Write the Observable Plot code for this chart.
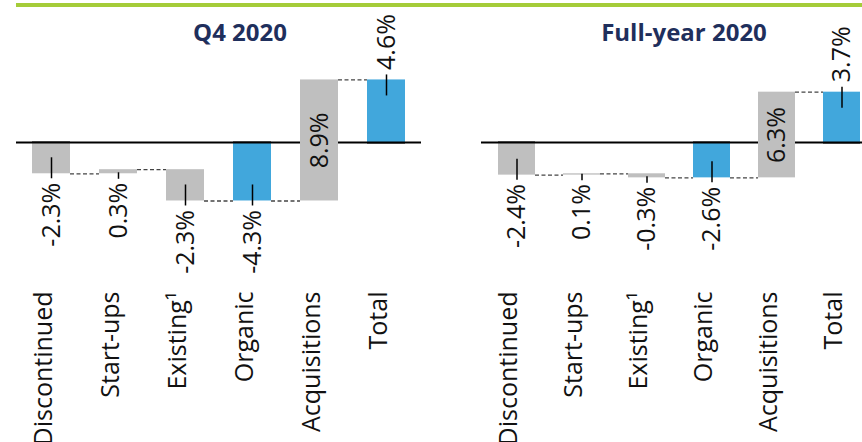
<!DOCTYPE html>
<html><head><meta charset="utf-8">
<script src="https://cdn.jsdelivr.net/npm/d3@7"></script>
<script src="https://cdn.jsdelivr.net/npm/@observablehq/plot@0.6"></script>
<style>
html,body{margin:0;padding:0;background:#fff;overflow:hidden}
#root{position:relative;width:862px;height:442px;overflow:hidden;font-family:"Open Sans",sans-serif}
.panel{position:absolute;top:0}
.title{position:absolute;top:20px;transform:translateX(-50%);font:700 24px/24px "Open Sans",sans-serif;color:#1f2f5c;white-space:nowrap}
#topline{position:absolute;left:16px;top:3px;width:846px;height:4px;background:#a5cc39}
</style></head><body>
<div id="root"><div id="topline"></div></div>
<script>
const categories = ["Discontinued", "Start-ups", "Existing\u00b9", "Organic", "Acquisitions", "Total"];
const q4Values = [-2.3, 0.3, -2.3, -4.3, 8.9, 4.6];
const fyValues = [-2.4, 0.1, -0.3, -2.6, 6.3, 3.7];
const q4Labels = ["-2.3%", "0.3%", "-2.3%", "-4.3%", "8.9%", "4.6%"];
const fyLabels = ["-2.4%", "0.1%", "-0.3%", "-2.6%", "6.3%", "3.7%"];
const subtotal = [false, false, false, true, false, true];
const labelPlacement = ["below", "below", "below", "below", "inside", "above"];
const titles = ["Q4 2020", "Full-year 2020"];

function waterfall(values, labels) {
  let run = 0;
  return categories.map((cat, i) => {
    const start = subtotal[i] ? 0 : run;
    const end = subtotal[i] ? values[i] : run + values[i];
    run = end;
    return {cat, value: values[i], label: labels[i], start, end, total: subtotal[i],
      place: labelPlacement[i], lo: Math.min(start, end), hi: Math.max(start, end),
      mid: (start + end) / 2, next: categories[i + 1]};
  });
}

const GRAY = "#bfbfbf", BLUE = "#41a7dc";
const Y0 = 142, PX = 13.6;

function panel(values, labels, cfg) {
  const rows = waterfall(values, labels);
  const bw = d3.scaleBand(categories, cfg.xRange).paddingInner(cfg.paddingInner).paddingOuter(0).bandwidth();
  const font = {fontFamily: '"Open Sans", sans-serif', fontSize: 25, fill: "#111"};
  const below = rows.filter(d => d.place === "below");
  const above = rows.filter(d => d.place === "above");
  const inside = rows.filter(d => d.place === "inside");
  const zeroLine = {stroke: "#000", strokeWidth: 2};
  return Plot.plot({
    width: 431, height: 442,
    marginLeft: cfg.marginLeft, marginRight: cfg.marginRight, marginTop: 10, marginBottom: 151,
    style: {background: "transparent"},
    x: {domain: categories, range: cfg.xRange, paddingInner: cfg.paddingInner, paddingOuter: 0, axis: null},
    y: {domain: [-5, 5], range: [Y0 + 5 * PX, Y0 - 5 * PX], axis: null},
    marks: [
      Plot.ruleY([0], zeroLine),
      Plot.barY(rows.filter(d => !d.total), {x: "cat", y1: "start", y2: "end", fill: GRAY}),
      Plot.barY(rows.filter(d => d.total), {x: "cat", y1: "start", y2: "end", fill: BLUE}),
      // zero line redrawn over bars that touch it (not over the inside-labelled bar)
      Plot.ruleY(rows.filter(d => d.place !== "inside" && (d.lo === 0 || d.hi === 0)), {y: () => 0, x1: "cat", x2: "cat", ...zeroLine}),
      Plot.ruleY(rows.filter(d => d.next), {y: "end", x1: "cat", x2: "next", insetLeft: bw, insetRight: bw,
        stroke: "#444", strokeWidth: 1.3, strokeDasharray: "4,2.5"}),
      Plot.ruleX(below.filter(d => Math.abs(d.value) >= 1), {x: "cat", y1: "lo", y2: "lo", insetTop: -16, insetBottom: -5, stroke: "#000", strokeWidth: 1.5}),
      Plot.ruleX(below.filter(d => Math.abs(d.value) < 1), {x: "cat", y1: "lo", y2: "lo", insetTop: -1, insetBottom: -5.5, stroke: "#000", strokeWidth: 1.5}),
      Plot.ruleX(above, {x: "cat", y1: "hi", y2: "hi", insetTop: -5, insetBottom: -16, stroke: "#000", strokeWidth: 1.5}),
      Plot.text(below, {x: "cat", y: "lo", text: "label", rotate: -90, textAnchor: "end", dy: 9, ...font}),
      Plot.text(above, {x: "cat", y: "hi", text: "label", rotate: -90, textAnchor: "start", dy: -10, ...font}),
      Plot.text(inside, {x: "cat", y: "mid", text: "label", rotate: -90, textAnchor: "middle", ...font}),
      Plot.text(rows, {x: "cat", text: "cat", frameAnchor: "bottom", rotate: -90, textAnchor: "end", ...font})
    ]
  });
}

const root = document.getElementById("root");
const configs = [
  {left: 0, marginLeft: 16, marginRight: 10, xRange: [31, 406], paddingInner: 0.436, titleX: 240},
  {left: 431, marginLeft: 50, marginRight: 0, xRange: [65, 431], paddingInner: 0.438, titleX: 684}
];
[[q4Values, q4Labels], [fyValues, fyLabels]].forEach(([v, l], k) => {
  const cfg = configs[k];
  const wrap = document.createElement("div");
  wrap.className = "panel";
  wrap.style.left = cfg.left + "px";
  wrap.appendChild(panel(v, l, cfg));
  root.appendChild(wrap);
  const t = document.createElement("div");
  t.className = "title";
  t.style.left = cfg.titleX + "px";
  t.textContent = titles[k];
  root.appendChild(t);
});
</script>
</body></html>
